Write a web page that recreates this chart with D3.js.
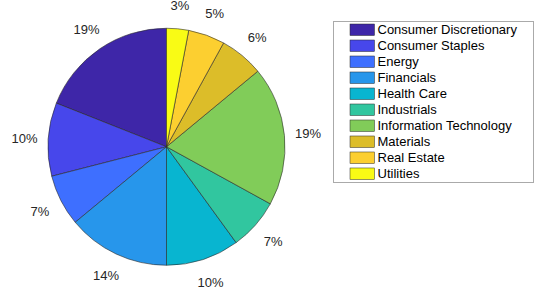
<!DOCTYPE html>
<html>
<head>
<meta charset="utf-8">
<script src="https://cdn.jsdelivr.net/npm/d3@7"></script>
<style>
  body { margin: 0; background: #fff; }
  svg { display: block; font-family: "Liberation Sans", Arial, Helvetica, sans-serif; }
</style>
</head>
<body>
<div id="chart"></div>
<script>
var sectors = ['Consumer Discretionary', 'Consumer Staples', 'Energy', 'Financials', 'Health Care',
    'Industrials', 'Information Technology', 'Materials', 'Real Estate', 'Utilities'];
var shares = [19, 10, 7, 14, 10, 7, 19, 6, 5, 3];
var colors = ['#3e26a8', '#4747eb', '#3e6fff', '#2796eb', '#08b5d0',
    '#31c69f', '#81cc59', '#dcbd29', '#fccf30', '#f9fb15'];

var width = 540, height = 290;
var cx = 166.5, cy = 146.75, r = 118.5;

var svg = d3.select('#chart').append('svg')
    .attr('width', width)
    .attr('height', height);

var data = sectors.map(function (s, i) { return { name: s, value: shares[i] }; });

// matlab style: start at the top and go counterclockwise
var pie = d3.pie()
    .value(function (d) { return d.value; })
    .sort(null)
    .startAngle(0)
    .endAngle(-2 * Math.PI);

var color = d3.scaleOrdinal().domain(sectors).range(colors);
var arc = d3.arc().innerRadius(0).outerRadius(r);
var labelArc = d3.arc().innerRadius(r * 1.2).outerRadius(r * 1.2);
var total = d3.sum(shares);

var g = svg.append('g').attr('transform', 'translate(' + cx + ',' + cy + ')');
var arcs = pie(data);

g.selectAll('path.slice')
    .data(arcs)
    .enter().append('path')
    .attr('class', 'slice')
    .attr('d', arc)
    .style('fill', function (d) { return color(d.data.name); })
    .style('stroke', '#2a2a2a')
    .style('stroke-width', '0.6px')
    .style('stroke-linejoin', 'round');

g.selectAll('text.pct')
    .data(arcs)
    .enter().append('text')
    .attr('class', 'pct')
    .attr('x', function (d) { return labelArc.centroid(d)[0]; })
    .attr('y', function (d) { return labelArc.centroid(d)[1]; })
    .attr('dy', '0.38em')
    .attr('text-anchor', 'middle')
    .style('font-size', '13px')
    .style('fill', '#262626')
    .text(function (d) { return Math.round(d.data.value / total * 100) + '%'; });

// legend
var lx = 333.5, ly = 21.5, lw = 200, lh = 161;
var rowY = d3.scaleBand().domain(sectors).range([24, 179.5]).paddingInner(0.28).paddingOuter(0);

var legend = svg.append('g');
legend.append('rect')
    .attr('x', lx).attr('y', ly)
    .attr('width', lw).attr('height', lh)
    .style('fill', '#fff')
    .style('stroke', '#aaaaaa')
    .style('stroke-width', '1px');

var row = legend.selectAll('g.row')
    .data(sectors)
    .enter().append('g')
    .attr('class', 'row');

row.append('rect')
    .attr('x', 350)
    .attr('y', function (d) { return rowY(d); })
    .attr('width', 24.5)
    .attr('height', rowY.bandwidth())
    .style('fill', function (d) { return color(d); })
    .style('stroke', '#2a2a2a')
    .style('stroke-width', '0.5px');

row.append('text')
    .attr('x', 377.5)
    .attr('y', function (d) { return rowY(d) + rowY.bandwidth() / 2; })
    .attr('dy', '0.36em')
    .style('font-size', '13px')
    .style('fill', '#000')
    .text(function (d) { return d; });
</script>
</body>
</html>
